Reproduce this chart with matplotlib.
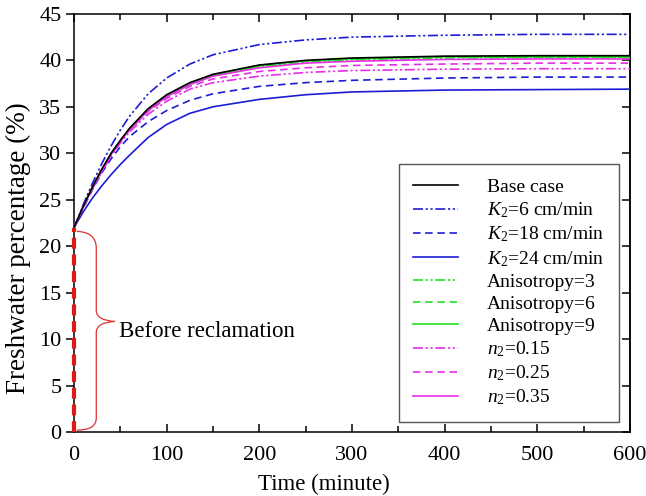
import matplotlib
matplotlib.use("Agg")
import matplotlib.pyplot as plt
from matplotlib.path import Path
from matplotlib.patches import PathPatch

plt.rcParams["font.family"] = ["Liberation Serif", "DejaVu Serif"]
plt.rcParams["mathtext.fontset"] = "custom"
plt.rcParams["mathtext.rm"] = "Liberation Serif"
plt.rcParams["mathtext.it"] = "Liberation Serif:italic"

# time axis (minutes) shared by every run
t = [0, 10, 20, 30, 40, 50, 60, 80, 100, 125, 150, 200, 250, 300, 400, 500, 600]

base = [22.0, 24.3, 26.4, 28.3, 30.0, 31.4, 32.7, 34.8, 36.3, 37.6, 38.5, 39.5, 40.0, 40.25, 40.45, 40.5, 40.5]

k2_6 = [22.0, 24.5, 26.8, 28.9, 30.8, 32.5, 34.0, 36.4, 38.1, 39.6, 40.6, 41.7, 42.2, 42.5, 42.7, 42.8, 42.8]
k2_18 = [22.0, 24.1, 26.1, 27.9, 29.4, 30.7, 31.8, 33.4, 34.6, 35.7, 36.4, 37.2, 37.6, 37.85, 38.1, 38.2, 38.2]
k2_24 = [22.0, 23.7, 25.2, 26.5, 27.7, 28.8, 29.8, 31.7, 33.1, 34.3, 35.0, 35.8, 36.3, 36.6, 36.8, 36.85, 36.9]

aniso_3 = [22.0, 24.2, 26.2, 28.1, 29.8, 31.2, 32.5, 34.6, 36.1, 37.4, 38.3, 39.3, 39.8, 40.05, 40.25, 40.3, 40.3]
aniso_6 = [22.0, 24.25, 26.3, 28.2, 29.9, 31.3, 32.6, 34.7, 36.2, 37.5, 38.4, 39.4, 39.9, 40.15, 40.35, 40.35, 40.35]
aniso_9 = [22.0, 24.3, 26.35, 28.25, 29.95, 31.35, 32.65, 34.75, 36.25, 37.55, 38.45, 39.45, 39.95, 40.2, 40.4, 40.4, 40.4]

n2_015 = [22.0, 24.2, 26.2, 28.0, 29.7, 31.1, 32.3, 34.2, 35.6, 36.9, 37.6, 38.3, 38.7, 38.9, 39.05, 39.1, 39.1]
n2_025 = [22.0, 24.2, 26.3, 28.1, 29.8, 31.3, 32.5, 34.5, 35.9, 37.2, 38.0, 38.8, 39.2, 39.45, 39.6, 39.7, 39.7]
n2_035 = [22.0, 24.3, 26.3, 28.2, 29.9, 31.3, 32.6, 34.6, 36.1, 37.4, 38.3, 39.2, 39.7, 39.9, 40.1, 40.15, 40.15]

# freshwater share held before the reclamation starts
before_t = [0, 0]
before_v = [0, 22]

blue = "#1c1cd6"
green = "#22e022"
magenta = "#e62ee6"
dashdotdot = (0, (6, 1.6, 1.3, 1.6, 1.3, 1.6))
dashed = (0, (4.5, 2.8))

fig = plt.figure(figsize=(6.46, 4.96), dpi=100)
ax = fig.add_axes([0.1146, 0.129, 0.8606, 0.843])

lw = 1.2
ax.plot(t, k2_6, color=blue, lw=lw, ls=dashdotdot, label=r"$K_2$=6 cm/min", zorder=3)
ax.plot(t, k2_18, color=blue, lw=lw, ls=dashed, label=r"$K_2$=18 cm/min", zorder=3)
ax.plot(t, k2_24, color=blue, lw=lw, ls="-", label=r"$K_2$=24 cm/min", zorder=3)
ax.plot(t, aniso_3, color=green, lw=lw, ls=dashdotdot, label="Anisotropy=3", zorder=3)
ax.plot(t, aniso_6, color=green, lw=lw, ls=dashed, label="Anisotropy=6", zorder=3)
ax.plot(t, aniso_9, color=green, lw=lw, ls="-", label="Anisotropy=9", zorder=3)
ax.plot(t, n2_015, color=magenta, lw=lw, ls=dashdotdot, label=r"$n_2$=0.15", zorder=4)
ax.plot(t, n2_025, color=magenta, lw=lw, ls=dashed, label=r"$n_2$=0.25", zorder=4)
ax.plot(t, n2_035, color=magenta, lw=lw, ls="-", label=r"$n_2$=0.35", zorder=4)
ax.plot(t, base, color="black", lw=lw, ls="-", label="Base case", zorder=5)

ax.plot(before_t, before_v, color="#e01818", lw=3, ls=(0, (2.6, 1.4)), clip_on=False, zorder=6)

# curly brace marking the pre-reclamation stage
verts = [
    (3, 21.6), (24, 21.5), (24, 19.8),
    (24, 13.1),
    (24, 12.0), (44, 11.9),
    (24, 11.8), (24, 10.7),
    (24, 1.5),
    (24, 0.2), (3, 0.2),
]
codes = [
    Path.MOVETO, Path.CURVE3, Path.CURVE3,
    Path.LINETO,
    Path.CURVE3, Path.CURVE3,
    Path.CURVE3, Path.CURVE3,
    Path.LINETO,
    Path.CURVE3, Path.CURVE3,
]
ax.add_patch(PathPatch(Path(verts, codes), facecolor="none", edgecolor="#e03030", lw=0.9, zorder=4))
ax.text(48, 10.8, "Before reclamation", fontsize=16.5, va="center", ha="left")

ax.set_xlim(0, 600)
ax.set_ylim(0, 45)
ax.set_xticks(range(0, 601, 100))
ax.set_xticks(range(50, 600, 100), minor=True)
ax.set_yticks(range(0, 46, 5))

ax.tick_params(axis="x", which="both", direction="in", top=True, labelsize=16, pad=10)
ax.tick_params(axis="x", which="major", length=6, width=1.1)
ax.tick_params(axis="x", which="minor", length=4, width=1.1)
ax.tick_params(axis="y", which="major", direction="out", length=6, width=1.1, labelsize=16, pad=3)

right = ax.secondary_yaxis("right")
right.set_yticks(range(0, 46, 5))
right.tick_params(direction="in", length=6, width=1.1, labelright=False)
right.spines["right"].set_linewidth(1.1)

for s in ax.spines.values():
    s.set_linewidth(1.1)

ax.set_xlabel("Time (minute)", fontsize=16.5, labelpad=6)
ax.xaxis.set_label_coords(0.45, -0.1)
ax.set_ylabel("Freshwater percentage (%)", fontsize=19.5)
ax.yaxis.set_label_coords(-0.077, 0.44)

handles, labels = ax.get_legend_handles_labels()
order = [9, 0, 1, 2, 3, 4, 5, 6, 7, 8]
leg = ax.legend([handles[i] for i in order], [labels[i] for i in order],
                loc="lower right", bbox_to_anchor=(0.980, 0.024), fontsize=14,
                frameon=True, fancybox=False, framealpha=1, edgecolor="#555555",
                handlelength=2.3, handletextpad=1.5, labelspacing=0.23,
                borderpad=0.75, borderaxespad=0)
leg.get_frame().set_linewidth(1.0)

fig.savefig("out.png", dpi=100)
